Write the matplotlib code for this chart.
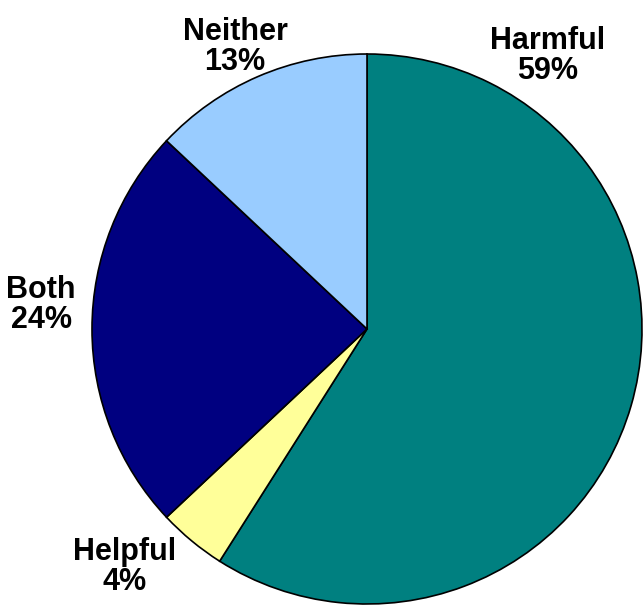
import matplotlib.pyplot as plt

categories = ['Harmful', 'Helpful', 'Both', 'Neither']
shares = [59, 4, 24, 13]
colors = ['#008080', '#FFFF99', '#000080', '#99CCFF']

# label anchor points, pixels relative to the pie centre
label_pos = {
    'Harmful': (181, 273),
    'Helpful': (-242, -238),
    'Both': (-326, 24),
    'Neither': (-132, 282),
}

plt.rcParams['font.family'] = ['Liberation Sans', 'DejaVu Sans']

fig = plt.figure(figsize=(6.44, 6.06), dpi=100)
ax = fig.add_axes([0, 0, 1, 1])
ax.pie(shares, colors=colors, startangle=90, counterclock=False,
       radius=275, center=(0, 0),
       wedgeprops=dict(edgecolor='black', linewidth=1.2))
ax.set_xlim(-367, 644 - 367)
ax.set_ylim(-(606 - 329), 329)
ax.set_aspect('equal')
ax.axis('off')

for name, val in zip(categories, shares):
    x, y = label_pos[name]
    ax.text(x, y, '%s\n%d%%' % (name, val), ha='center', va='center',
            fontsize=22, fontweight='bold', linespacing=1.0)

plt.savefig('out.png', dpi=100)
